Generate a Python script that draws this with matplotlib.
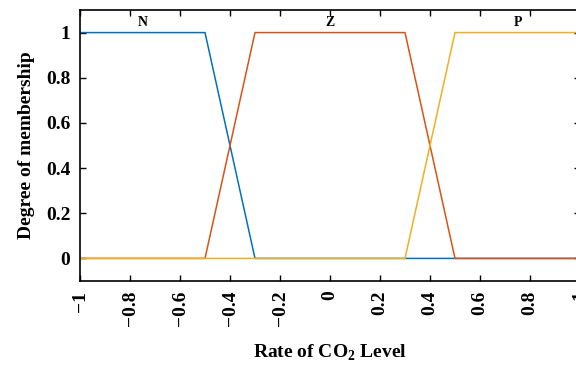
import matplotlib
matplotlib.use('Agg')
import matplotlib.pyplot as plt

# membership function breakpoints (trapezoids)
n_x = [-1, -0.5, -0.3, 1]
n_y = [1, 1, 0, 0]
z_x = [-1, -0.5, -0.3, 0.3, 0.5, 1]
z_y = [0, 0, 1, 1, 0, 0]
p_x = [-1, 0.3, 0.5, 1]
p_y = [0, 0, 1, 1]

set_names = ['N', 'Z', 'P']
set_centers = [-0.75, 0, 0.75]

x_ticks = [-1, -0.8, -0.6, -0.4, -0.2, 0, 0.2, 0.4, 0.6, 0.8, 1]
y_ticks = [0, 0.2, 0.4, 0.6, 0.8, 1]

plt.rcParams['font.family'] = ['Liberation Serif', 'DejaVu Serif']
plt.rcParams['font.weight'] = 'bold'
plt.rcParams['mathtext.fontset'] = 'custom'
plt.rcParams['mathtext.rm'] = 'Liberation Serif:bold'

fig = plt.figure(figsize=(5.76, 3.65), dpi=100)
ax = fig.add_axes([80 / 576, 1 - 281 / 365, 500 / 576, 271 / 365])

ax.plot(n_x, n_y, color='#0072BD', lw=1.1)
ax.plot(z_x, z_y, color='#D95319', lw=1.1)
ax.plot(p_x, p_y, color='#EDB120', lw=1.1)

for name, cx in zip(set_names, set_centers):
    ax.text(cx, 1.045, name, ha='center', va='center', fontsize=10, fontweight='bold')

ax.set_xlim(-1, 1)
ax.set_ylim(-0.1, 1.1)
ax.set_xticks(x_ticks)
ax.set_xticklabels([('\u2212' if t < 0 else '') + f'{abs(t):g}' for t in x_ticks],
                   rotation=90, fontsize=14, fontweight='bold')
ax.set_yticks(y_ticks)
ax.set_yticklabels([f'{t:g}' for t in y_ticks], fontsize=14, fontweight='bold')
ax.tick_params(direction='in', top=True, right=True, length=4, width=1, pad=7)
for s in ax.spines.values():
    s.set_linewidth(1.2)

ax.set_xlabel('Rate of CO$_2$ Level', fontsize=14, fontweight='bold', labelpad=12)
ax.set_ylabel('Degree of membership', fontsize=14, fontweight='bold', labelpad=8)

fig.savefig('out.png', dpi=100)
